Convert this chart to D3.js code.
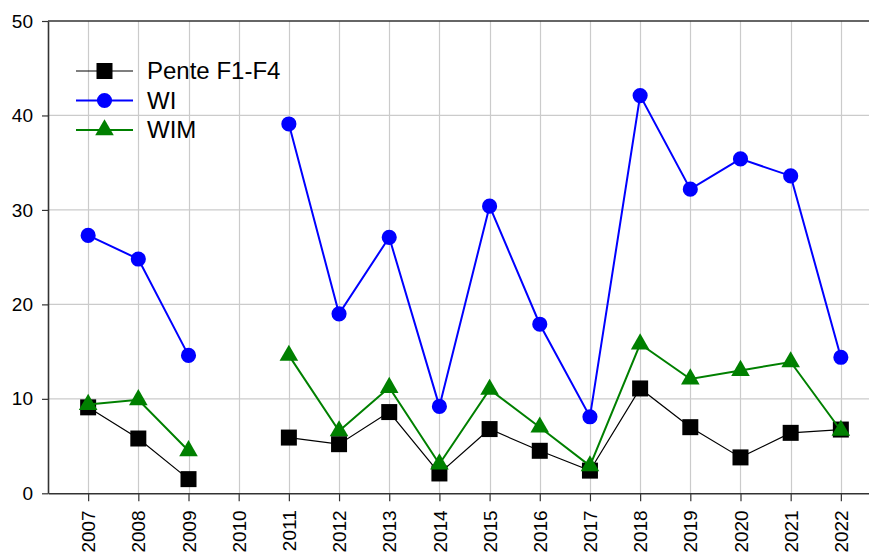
<!DOCTYPE html>
<html>
<head>
<meta charset="utf-8">
<script src="https://cdn.jsdelivr.net/npm/d3@7"></script>
<style>
  body { margin: 0; background: #fff; }
  svg { display: block; font-family: "Liberation Sans", Arial, sans-serif; }
</style>
</head>
<body>
<div id="chart"></div>
<script>
// years on the x axis (2010 has no values)
var years = [2007, 2008, 2009, 2010, 2011, 2012, 2013, 2014, 2015, 2016, 2017, 2018, 2019, 2020, 2021, 2022];
var pente = [9.1, 5.8, 1.5, null, 5.9, 5.2, 8.6, 2.1, 6.8, 4.5, 2.4, 11.1, 7.0, 3.8, 6.4, 6.75];
var wi = [27.3, 24.8, 14.6, null, 39.1, 19.0, 27.1, 9.2, 30.4, 17.9, 8.1, 42.1, 32.2, 35.4, 33.6, 14.4];
var wim = [9.4, 9.9, 4.5, null, 14.6, 6.6, 11.2, 3.1, 11.0, 7.0, 2.9, 15.8, 12.1, 13.0, 13.9, 6.65];
var yTicks = [0, 10, 20, 30, 40, 50];
var seriesNames = ["Pente F1-F4", "WI", "WIM"];

var W = 869, H = 554;
var margin = { top: 21, left: 48, bottom: 61 };

var svg = d3.select("#chart").append("svg")
    .attr("width", W)
    .attr("height", H);

var x = d3.scaleLinear().domain([2006.2, 2022.8]).range([margin.left, 881]);
var y = d3.scaleLinear().domain([0, 50]).range([H - margin.bottom + 0.3, margin.top]);

// grid
var grid = svg.append("g").attr("class", "grid");
grid.selectAll("line.v").data(years).enter().append("line")
    .attr("x1", function (d) { return Math.round(x(d)) + 0.5; })
    .attr("x2", function (d) { return Math.round(x(d)) + 0.5; })
    .attr("y1", y(50))
    .attr("y2", y(0))
    .attr("stroke", "#cbcbcb")
    .attr("stroke-width", 1.2);
grid.selectAll("line.h").data(yTicks.filter(function (d) { return d > 0 && d < 50; })).enter().append("line")
    .attr("x1", x.range()[0])
    .attr("x2", x.range()[1])
    .attr("y1", function (d) { return y(d); })
    .attr("y2", function (d) { return y(d); })
    .attr("stroke", "#cbcbcb")
    .attr("stroke-width", 1.2);

// axes
var yAxis = svg.append("g")
    .attr("transform", "translate(" + margin.left + ",0)")
    .call(d3.axisLeft(y).tickValues(yTicks).tickSize(6).tickPadding(9).tickSizeOuter(0));
var xAxis = svg.append("g")
    .attr("transform", "translate(0," + y(0) + ")")
    .call(d3.axisBottom(x).tickValues(years).tickFormat(d3.format("d")).tickSize(8).tickSizeOuter(0));
[yAxis, xAxis].forEach(function (a) {
    a.select(".domain").attr("stroke", "#333").attr("stroke-width", 1.6);
    a.selectAll(".tick line").attr("stroke", "#333").attr("stroke-width", 1.2);
    a.selectAll("text").attr("font-size", "19px").attr("fill", "#000").attr("font-family", "Liberation Sans, Arial, sans-serif");
});
xAxis.selectAll(".tick text")
    .attr("transform", "rotate(-90)")
    .attr("text-anchor", "end")
    .attr("dx", "-17px")
    .attr("dy", "0.35em")
    .attr("x", 0)
    .attr("y", 0);
// top border
svg.append("line")
    .attr("x1", margin.left).attr("x2", x.range()[1])
    .attr("y1", y(50)).attr("y2", y(50))
    .attr("stroke", "#333").attr("stroke-width", 1.6);

var line = d3.line()
    .defined(function (d) { return d.v !== null; })
    .x(function (d) { return x(d.year); })
    .y(function (d) { return y(d.v); });

function pts(arr) {
    return years.map(function (yr, i) { return { year: yr, v: arr[i] }; });
}

var series = [
    { name: seriesNames[0], data: pts(pente), color: "#000000", width: 1.2, marker: "square" },
    { name: seriesNames[1], data: pts(wi), color: "#0000ff", width: 2, marker: "circle" },
    { name: seriesNames[2], data: pts(wim), color: "#008000", width: 2, marker: "triangle" }
];

var sym = {
    square: d3.symbol().type(d3.symbolSquare).size(256),
    circle: d3.symbol().type(d3.symbolCircle).size(180),
    triangle: d3.symbol().type(d3.symbolTriangle).size(150)
};

series.forEach(function (s) {
    var g = svg.append("g");
    g.append("path")
        .datum(s.data)
        .attr("d", line)
        .attr("fill", "none")
        .attr("stroke", s.color)
        .attr("stroke-width", s.width);
    g.selectAll("path.m").data(s.data.filter(function (d) { return d.v !== null; }))
        .enter().append("path")
        .attr("transform", function (d) { return "translate(" + x(d.year) + "," + y(d.v) + ")"; })
        .attr("d", sym[s.marker])
        .attr("fill", s.color);
});

// legend
var legend = svg.append("g").attr("transform", "translate(76,71)");
series.forEach(function (s, i) {
    var row = legend.append("g").attr("transform", "translate(0," + (i * 29.5) + ")");
    row.append("line")
        .attr("x1", 0).attr("x2", 57)
        .attr("stroke", s.color)
        .attr("stroke-width", s.width);
    row.append("path")
        .attr("transform", "translate(28.5,0)")
        .attr("d", sym[s.marker])
        .attr("fill", s.color);
    row.append("text")
        .attr("x", 71)
        .attr("y", 0)
        .attr("dy", "0.35em")
        .attr("font-size", "24px")
        .attr("fill", "#000")
        .text(s.name);
});
</script>
</body>
</html>
